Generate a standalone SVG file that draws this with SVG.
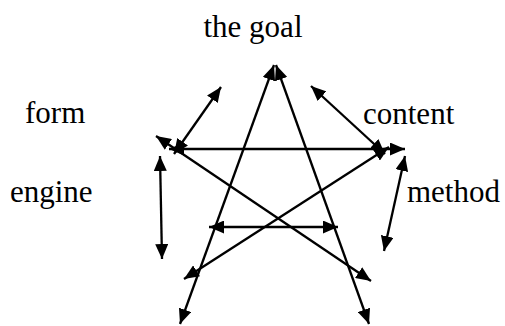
<svg xmlns="http://www.w3.org/2000/svg" width="505" height="326" viewBox="0 0 505 326">
<style>
.lbl{font-family:"Liberation Serif","Times New Roman",serif;font-size:31px;fill:#000}
.c{stroke:#000;stroke-width:2.3;fill:none;marker-start:url(#ah);marker-end:url(#ah)}
</style>
<defs>
<marker id="ah" markerWidth="15" markerHeight="13" refX="15" refY="6.5" orient="auto-start-reverse" markerUnits="userSpaceOnUse">
<path d="M0,0 L15,6.5 L0,13 z" fill="#000"/>
</marker>
</defs>
<rect width="505" height="326" fill="#fff"/>
<g id="goal"><text class="lbl" x="253" y="37" text-anchor="middle">the goal</text></g>
<g id="form"><text class="lbl" x="25" y="123">form</text></g>
<g id="content"><text class="lbl" x="363" y="124">content</text></g>
<g id="engine"><text class="lbl" x="10" y="202">engine</text></g>
<g id="method"><text class="lbl" x="407" y="202">method</text></g>
<g id="connectors">
<line class="c" x1="274" y1="65" x2="180" y2="324"/>
<line class="c" x1="276" y1="65" x2="369" y2="324"/>
<line class="c" x1="169" y1="149" x2="405" y2="149"/>
<line class="c" x1="174" y1="154" x2="221" y2="87"/>
<line class="c" x1="156" y1="136" x2="371" y2="281"/>
<line class="c" x1="311" y1="86" x2="385" y2="154"/>
<line class="c" x1="389" y1="147" x2="184" y2="279"/>
<line class="c" x1="160" y1="156" x2="162" y2="259"/>
<line class="c" x1="405" y1="156" x2="384" y2="251"/>
<line class="c" x1="209" y1="227" x2="338" y2="227"/>
</g>
</svg>
